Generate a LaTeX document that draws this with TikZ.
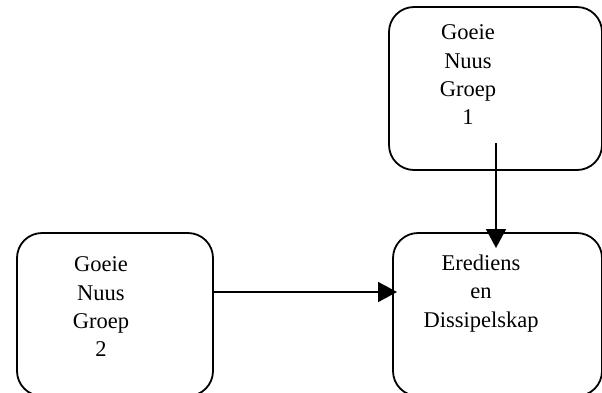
\documentclass[tikz,border=0pt]{standalone}
\usepackage{fontspec}
\setmainfont{Liberation Serif}
\usetikzlibrary{arrows.meta}

\begin{document}
\begin{tikzpicture}[x=1pt,y=-1pt,->,>={Triangle[length=19pt,width=20pt]},
    box/.style={rectangle, draw, line width=1.8pt, rounded corners=25pt},
    lbl/.style={align=center, inner sep=0pt, anchor=north,
                font=\fontsize{22.5}{28.3}\selectfont}]

    \useasboundingbox (0,0) rectangle (602,392);

    \node[box,
          minimum width = 213pt,
          minimum height = 163pt
          ] (gng1) at (495.5,88.5) {};
    \node[lbl] (txt1) at (468,24.7) {Goeie\\Nuus\\Groep\\1};

    \node[box,
          minimum width = 196pt,
          minimum height = 163pt
          ] (gng2) at (115,314.5) {};
    \node[lbl] (txt2) at (101,256.7) {Goeie\\Nuus\\Groep\\2};

    \node[box,
          minimum width = 209pt,
          minimum height = 163pt
          ] (eredi) at (497.5,314.5) {};
    \node[lbl] (txt3) at (481,254.6) {Erediens\\en\\Dissipelskap};

    % arrow ends
    \coordinate (from1) at (496,143);
    \coordinate (into1) at (496,248);
    \coordinate (from2) at (213,292);
    \coordinate (into2) at (397,292);

    \path[every edge/.style={draw, line width=1.8pt}]
    (from1) edge [] (into1)
    (from2) edge [] (into2) ;

\end{tikzpicture}
\end{document}
